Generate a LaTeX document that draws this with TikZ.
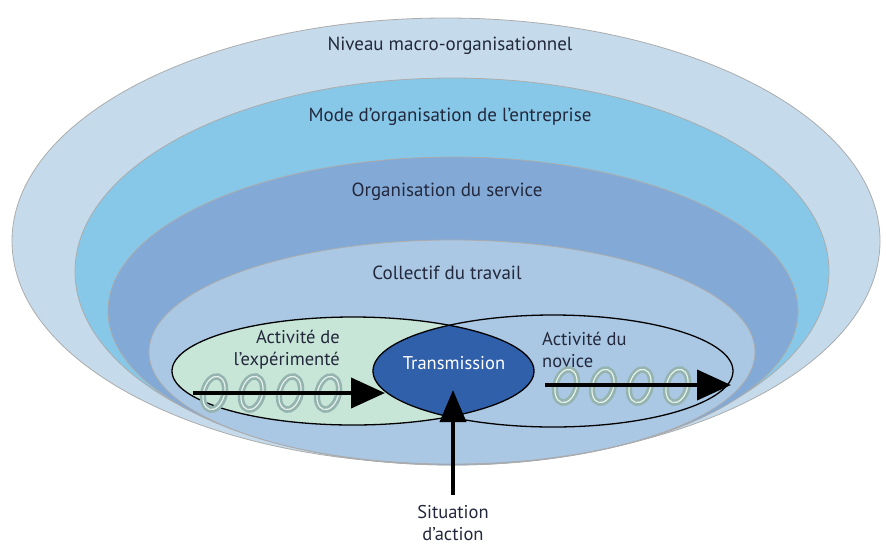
\documentclass[tikz,border=0pt]{standalone}
\usepackage{fontspec}
\setmainfont{PT Sans}
\usetikzlibrary{arrows.meta, calc}
\definecolor{macrocol}{RGB}{197,219,236}
\definecolor{entrcol}{RGB}{135,200,232}
\definecolor{servcol}{RGB}{131,170,214}
\definecolor{collcol}{RGB}{170,200,228}
\definecolor{expcol}{RGB}{200,230,216}
\definecolor{transcol}{RGB}{48,96,170}
\definecolor{coilcol}{RGB}{150,180,175}
\definecolor{txtcol}{RGB}{35,40,60}
\tikzset{level/.style={draw=gray!65, line width=.8pt},
lvltext/.style={text=txtcol, font=\fontsize{19}{23}\selectfont, inner sep=0pt},
intext/.style={text=txtcol, font=\fontsize{18.5}{22}\selectfont, inner sep=0pt},
coil/.style={draw=coilcol, line width=2.6pt, double=expcol!50!white, double distance=1.2pt},
bigarrow/.style={line width=4pt, -{Triangle[length=34pt,width=30pt]}}}

\begin{document}
\begin{tikzpicture}[x=1pt, y=-1pt]
        \useasboundingbox (0,0) rectangle (886,547);
        % nested levels
        \fill[macrocol, level] (446,241) ellipse [x radius=434pt, y radius=223pt];
        \fill[entrcol, level] (452,271.5) ellipse [x radius=377pt, y radius=193.5pt];
        \fill[servcol, level] (453,311) ellipse [x radius=345pt, y radius=154pt];
        \fill[collcol, level] (452,352) ellipse [x radius=303pt, y radius=112pt];
        \node[lvltext] (macro) at (450,46) {Niveau macro-organisationnel};
        \node[lvltext] (entr) at (450,117) {Mode d’organisation de l’entreprise};
        \node[lvltext] (serv) at (447,192) {Organisation du service};
        \node[lvltext] (coll) at (447,273) {Collectif du travail};

        % the two activities
        \fill[expcol] (353,371) ellipse [x radius=181pt, y radius=54pt];
        \begin{scope}
            \clip (353,371) ellipse [x radius=181pt, y radius=54pt];
            \fill[transcol] (553,371) ellipse [x radius=180pt, y radius=56pt];
        \end{scope}
        \draw[line width=1.3pt] (353,371) ellipse [x radius=181pt, y radius=54pt];
        \draw[line width=1.3pt] (553,371) ellipse [x radius=180pt, y radius=56pt];

        \node[intext, align=right, anchor=east] (exp) at (340,350) {Activité de\\l’expérimenté};
        \node[intext, align=left, anchor=west] (nov) at (542,350) {Activité du\\novice};
        \node[intext, text=white] (trans) at (454,363) {Transmission};

        % springs
        \foreach \cx in {214,252,290,328}
            \draw[coil, rotate around={-15:(\cx,393)}] (\cx,393) ellipse [x radius=10.5pt, y radius=17pt];
        \foreach \cx in {566,603,640,677}
            \draw[coil, rotate around={-15:(\cx,386)}] (\cx,386) ellipse [x radius=10.5pt, y radius=17pt];
        \coordinate (expA) at (193,393);
        \coordinate (expB) at (385,393);
        \coordinate (novA) at (545,385);
        \coordinate (novB) at (731,385);
        \draw[bigarrow] (expA) -- (expB);
        \draw[bigarrow] (novA) -- (novB);
        \foreach \cx in {214,252,290,328}
            \draw[coil, rotate around={-15:(\cx,393)}] (\cx,410) arc[start angle=-90, end angle=0, x radius=10.5pt, y radius=17pt];
        \foreach \cx in {566,603,640,677}
            \draw[coil, rotate around={-15:(\cx,386)}] (\cx,403) arc[start angle=-90, end angle=0, x radius=10.5pt, y radius=17pt];

        \node[intext, align=center] (sit) at (453,523) {Situation\\d’action};
        \coordinate (tip) at (453,390);
        \draw[bigarrow, -{Triangle[length=32pt,width=26pt]}] ([yshift=10pt]sit.north) -- (tip);
\end{tikzpicture}
\end{document}
